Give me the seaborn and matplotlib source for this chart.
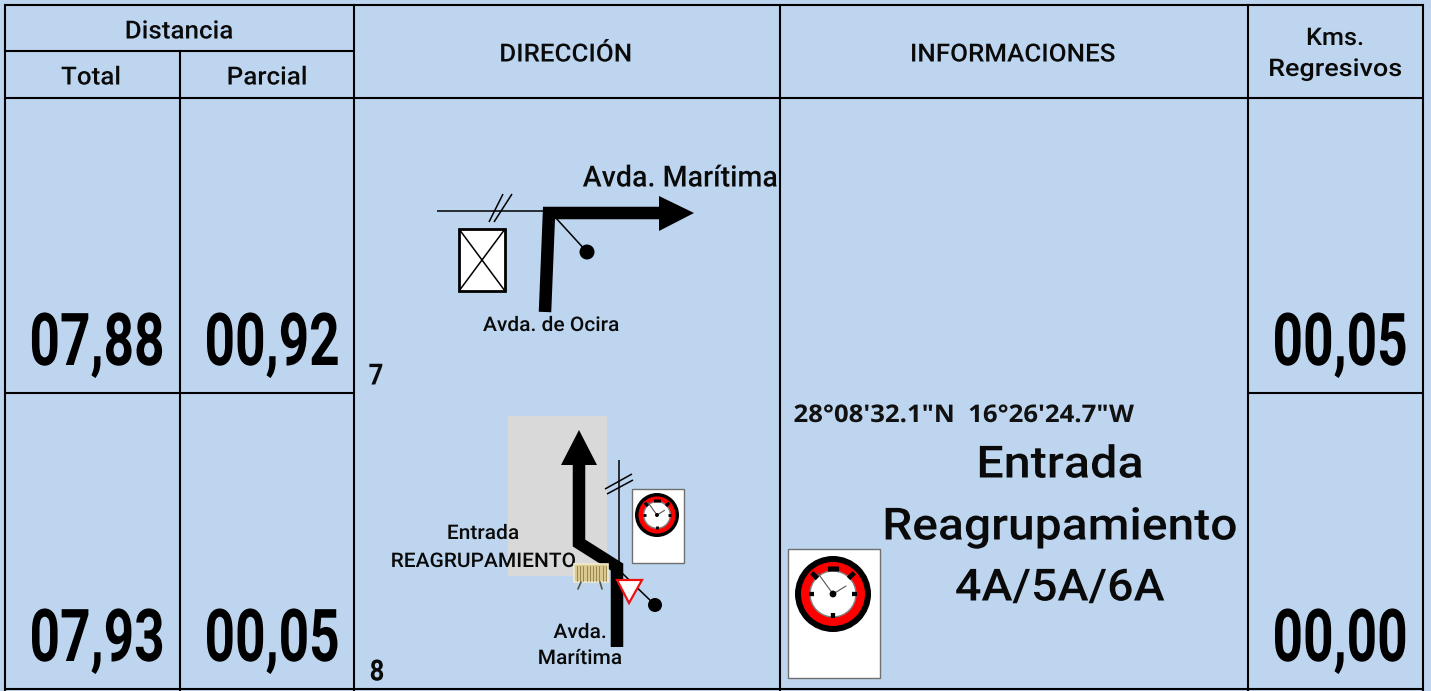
import matplotlib
matplotlib.use("Agg")
from matplotlib import pyplot as plt
from matplotlib.patches import Rectangle, Circle, Polygon
from matplotlib.patheffects import AbstractPathEffect
from matplotlib.transforms import Affine2D
import seaborn as sns
import numpy as np
import pandas as pd

FONDO = "#BDD5EE"

# textos y valores del roadbook
titulo_distancia = "Distancia"
titulos_dist = ["Total", "Parcial"]
titulos_centro = ["DIRECCIÓN", "INFORMACIONES"]
titulos_kms = ["Kms.", "Regresivos"]
vinetas = ["7", "8"]
total = ["07,88", "07,93"]
parcial = ["00,92", "00,05"]
regresivos = ["00,05", "00,00"]
coordenadas = "28°08'32.1\"N  16°26'24.7\"W"
info = ["Entrada", "Reagrupamiento", "4A/5A/6A"]

# trazado de cada viñeta
ruta_7_x = [545, 549, 662]
ruta_7_y = [312, 213, 213]
ruta_8_x = [617, 617, 579, 579]
ruta_8_y = [647, 567, 543, 462]

sns.set_theme(style="white", rc={"figure.facecolor": FONDO, "axes.facecolor": FONDO})
plt.rcParams["font.family"] = ["Roboto", "DejaVu Sans"]

fig = plt.figure(figsize=(14.31, 6.91), dpi=100)
ax = fig.add_axes([0, 0, 1, 1])
ax.set_xlim(0, 1431)
ax.set_ylim(691, 0)
ax.axis("off")


class Ancho(AbstractPathEffect):
    # ensancha o estrecha el texto respecto a su centro, la letra original no es Roboto
    def __init__(self, x0, factor):
        super().__init__()
        self.x0 = x0
        self.factor = factor

    def draw_path(self, renderer, gc, tpath, affine, rgbFace=None):
        t = affine + Affine2D().translate(-self.x0, 0).scale(self.factor, 1).translate(self.x0, 0)
        renderer.draw_path(gc, tpath, t, rgbFace)


def texto(x, y, s, size, ancho=1.04, weight=500, ha="center", **kw):
    kw.setdefault("color", "#0a0a0a")
    ax.text(x, y + 1.5, s, fontsize=size, fontweight=weight, ha=ha, va="center",
            path_effects=[Ancho(x, ancho)], **kw)


def numero(x, y, s):
    ax.text(x, y, s, fontsize=52.5, fontweight="bold", ha="center", va="baseline", color="black",
            path_effects=[Ancho(x, 0.73)])


def recta(xs, ys, lw=1.1, color="black"):
    ax.plot(xs, ys, color=color, lw=lw, solid_capstyle="butt")


def ruta(xs, ys):
    df = pd.DataFrame({"x": xs, "y": ys})
    sns.lineplot(data=df, x="x", y="y", ax=ax, sort=False, estimator=None, color="black", lw=9,
                 solid_joinstyle="miter", solid_capstyle="butt", legend=False)


def reloj(cx, cy, r):
    k = r / 38
    ax.add_patch(Circle((cx, cy), 38 * k, fc="black", ec="none", zorder=5))
    ax.add_patch(Circle((cx, cy), 32 * k, fc="#FF0000", ec="none", zorder=5))
    ax.add_patch(Circle((cx, cy), 23 * k, fc="white", ec="#808080", lw=1, zorder=5))
    for a in np.radians([0, 90, 180]):
        ax.plot([cx + 19 * k * np.cos(a), cx + 24 * k * np.cos(a)],
                [cy + 19 * k * np.sin(a), cy + 24 * k * np.sin(a)],
                color="black", lw=2.6 * k + 0.5, solid_capstyle="butt", zorder=6)
    ax.plot([cx, cx], [cy - 28 * k, cy - 23 * k], color="black", lw=7 * k + 1, solid_capstyle="butt", zorder=6)
    for a in np.radians([-135, -45]):
        ax.plot([cx + 22 * k * np.cos(a), cx + 30 * k * np.cos(a)],
                [cy + 22 * k * np.sin(a), cy + 30 * k * np.sin(a)],
                color="black", lw=3 * k + 0.5, solid_capstyle="butt", zorder=6)
    ax.plot([cx, cx - 16 * k], [cy, cy - 22 * k], color="#555555", lw=0.8, zorder=6)
    ax.plot([cx, cx + 13 * k], [cy, cy - 8 * k], color="#555555", lw=0.8, zorder=6)
    ax.add_patch(Circle((cx, cy), 3.4 * k, fc="black", ec="none", zorder=7))


# rejilla de la tabla
for x in [5, 180, 354, 780, 1248, 1423]:
    y0 = 51 if x == 180 else 5
    ax.plot([x, x], [y0, 691], color="black", lw=1.5, solid_capstyle="projecting")
ax.plot([5, 1423], [5, 5], color="black", lw=1.5)
ax.plot([5, 354], [51, 51], color="black", lw=1.5)
ax.plot([5, 1423], [98, 98], color="black", lw=1.5)
ax.plot([5, 354], [393, 393], color="black", lw=1.5)
ax.plot([1248, 1423], [393, 393], color="black", lw=1.5)
ax.plot([5, 1423], [689, 689], color="black", lw=1.5)

# cabeceras
texto(179, 30, titulo_distancia, 18)
texto(91, 76, titulos_dist[0], 18)
texto(267, 76, titulos_dist[1], 18)
texto(566, 53, titulos_centro[0], 18)
texto(1013, 53, titulos_centro[1], 18)
texto(1335, 37, titulos_kms[0], 17.5)
texto(1335, 68, titulos_kms[1], 17.5, ancho=1.11)

# distancias
for fila, base in enumerate([365, 661]):
    numero(97, base, total[fila])
    numero(272, base, parcial[fila])
    numero(1340, base, regresivos[fila])

# numero de viñeta
texto(376, 375, vinetas[0], 21, ancho=0.88, weight="bold")
texto(377, 671, vinetas[1], 21, ancho=0.88, weight="bold")

# viñeta 7
recta([437, 545], [211, 211])
recta([489, 503], [222, 194])
recta([494, 512], [222, 194])
ax.add_patch(Rectangle((459, 229), 46, 62, fc="white", ec="black", lw=2))
recta([459, 505], [229, 291])
recta([459, 505], [291, 229])
recta([555, 587], [217, 252])
ax.add_patch(Circle((587, 252), 7.5, fc="black", ec="none"))
ruta(ruta_7_x, ruta_7_y)
ax.add_patch(Polygon([(659, 196), (694, 213), (659, 231)], fc="black", ec="none"))
texto(680, 177, "Avda. Marítima", 21, ancho=0.98)
texto(551, 324, "Avda. de Ocira", 14.5)

# viñeta 8
ax.add_patch(Rectangle((508, 416), 99, 160, fc="#D9D9D9", ec="none", zorder=0.5))
recta([619, 619], [460, 567])
recta([605, 632], [489, 474])
recta([607, 633], [494, 480])
recta([622, 655], [573, 605])
ax.add_patch(Circle((655, 605), 7, fc="black", ec="none"))
ruta(ruta_8_x, ruta_8_y)
ax.add_patch(Polygon([(561, 465), (579, 430), (597, 465)], fc="black", ec="none"))
ax.add_patch(Rectangle((632, 489), 52, 74, fc="white", ec="#707070", lw=1))
reloj(657, 515, 22)
ax.add_patch(Polygon([(617, 580), (642, 580), (629, 603)], fc="white", ec="#EE1111", lw=1.6, zorder=6))
# valla
ax.add_patch(Rectangle((574, 564), 34, 18, fc="#D9C88F", ec="#F3EBCF", lw=1.2, zorder=4))
for xv in np.arange(577, 607, 3.2):
    ax.plot([xv, xv], [566, 581], color="#9A8650", lw=0.7, zorder=4)
ax.plot([581, 578], [582, 589], color="#555544", lw=1.2, zorder=4)
ax.plot([600, 602], [582, 589], color="#555544", lw=1.2, zorder=4)
texto(483, 532, "Entrada", 14.5)
texto(483.5, 560, "REAGRUPAMIENTO", 14.5)
texto(580, 631, "Avda.", 14.5)
texto(580, 657, "Marítima", 14.5)

# informaciones
ax.text(963.5, 416, coordenadas, fontsize=17.5, fontweight="bold", ha="center", va="center", color="#111111",
        family=["Open Sans", "DejaVu Sans"], path_effects=[Ancho(963.5, 1.06)])
texto(1060, 464, info[0], 32, ancho=1.09)
texto(1060, 526, info[1], 32, ancho=1.08)
texto(1060, 587, info[2], 32, ancho=1.05)
ax.add_patch(Rectangle((788, 549), 92, 129, fc="white", ec="#707070", lw=1))
reloj(833, 594, 38)

fig.savefig("out.png", dpi=100, facecolor=FONDO)
